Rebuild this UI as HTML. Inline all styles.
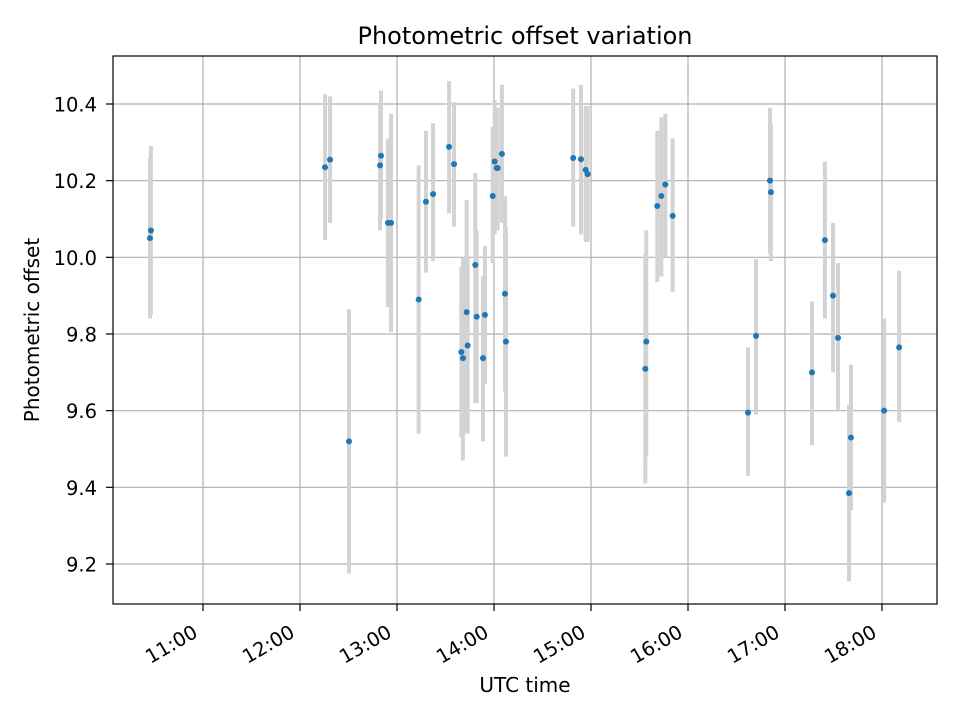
<!DOCTYPE html>
<html><head><meta charset="utf-8"><style>
html,body{margin:0;padding:0;background:#fff;}
svg{display:block;font-family:"DejaVu Sans","Liberation Sans",sans-serif;}
</style></head><body>
<svg id="chart" width="960" height="720" viewBox="0 0 960 720" xmlns="http://www.w3.org/2000/svg">
<rect x="0" y="0" width="960" height="720" fill="#fff"/>
<g id="grid"></g>
<g id="bars"></g>
<g id="pts"></g>
<rect x="113" y="56" width="824" height="548" fill="none" stroke="#000" stroke-width="1.2"/>
<g id="axes"></g>
<text x="525" y="44" text-anchor="middle" font-size="24">Photometric offset variation</text>
<text x="525" y="692" text-anchor="middle" font-size="20">UTC time</text>
<text transform="translate(39,330) rotate(-90)" text-anchor="middle" font-size="20">Photometric offset</text>
</svg>
<script>
// minutes since 11:00 UTC
const times = [-32.8,-32.2,75.5,78.6,90.3,109.5,110.1,114.4,116.3,133.4,137.9,142.3,152.2,155.3,159.8,160.8,163.1,163.7,168.4,169.3,173.2,174.4,179.2,180.4,181.7,182.3,184.9,186.8,187.4,229,233.8,236.7,237.9,273.6,274.2,281,283.5,286,290.5,337.1,342.1,350.7,351.3,376.7,384.7,389.7,392.8,399.6,400.8,421.3,430.6];
const values = [10.05,10.07,10.235,10.255,9.52,10.24,10.265,10.09,10.09,9.89,10.145,10.165,10.288,10.243,9.753,9.737,9.857,9.77,9.98,9.845,9.737,9.85,10.16,10.25,10.233,10.233,10.27,9.905,9.78,10.259,10.256,10.228,10.217,9.709,9.78,10.134,10.16,10.19,10.108,9.595,9.795,10.2,10.17,9.70,10.045,9.90,9.79,9.385,9.53,9.60,9.765];
const lower = [9.84,9.85,10.045,10.09,9.175,10.07,10.10,9.87,9.805,9.54,9.96,9.99,10.115,10.08,9.53,9.47,9.54,9.54,9.62,9.62,9.52,9.67,9.985,10.06,10.07,10.07,10.09,9.65,9.48,10.08,10.06,10.04,10.04,9.41,9.48,9.935,9.95,10.0,9.91,9.43,9.59,10.01,9.99,9.51,9.84,9.70,9.60,9.155,9.34,9.36,9.57];
const upper = [10.26,10.29,10.425,10.42,9.865,10.40,10.435,10.31,10.375,10.24,10.33,10.35,10.46,10.405,9.975,10.0,10.15,10.0,10.22,10.07,9.95,10.03,10.34,10.41,10.39,10.39,10.45,10.16,10.08,10.44,10.45,10.395,10.395,10.01,10.07,10.33,10.365,10.375,10.31,9.765,9.995,10.39,10.35,9.885,10.25,10.09,9.985,9.615,9.72,9.84,9.965];
const yTicks = [9.2,9.4,9.6,9.8,10.0,10.2,10.4];
const yTickLabels = ["9.2","9.4","9.6","9.8","10.0","10.2","10.4"];
const xTicks = [0,60,120,180,240,300,360,420];
const xTickLabels = ["11:00","12:00","13:00","14:00","15:00","16:00","17:00","18:00"];

const NS="http://www.w3.org/2000/svg";
const X0=113,X1=937,Y0=56,Y1=604;
function xs(m){return 203+m*97/60;}
function ys(v){return 104+(10.4-v)*383.33;}
function mk(tag,attrs,parent){const e=document.createElementNS(NS,tag);for(const k in attrs)e.setAttribute(k,attrs[k]);parent.appendChild(e);return e;}
const grid=document.getElementById('grid'),axes=document.getElementById('axes'),bars=document.getElementById('bars'),pts=document.getElementById('pts');
yTicks.forEach((v,i)=>{const y=ys(v);
 const g=mk('line',{x1:X0,x2:X1,y1:y,y2:y,stroke:'#b0b0b0','stroke-width':1.2},grid);
 
 
 const t=mk('line',{x1:X0-7,x2:X0,y1:y,y2:y,stroke:'#000','stroke-width':1.2},axes);
 
 
 const l=mk('text',{x:X0-16,y:y+7.5,'text-anchor':'end','font-size':19.5},axes);
 l.textContent=yTickLabels[i];
 
 
});
xTicks.forEach((m,i)=>{const x=xs(m);
 const g=mk('line',{x1:x,x2:x,y1:Y0,y2:Y1,stroke:'#b0b0b0','stroke-width':1.2},grid);
 
 
 const t=mk('line',{x1:x,x2:x,y1:Y1,y2:Y1+7,stroke:'#000','stroke-width':1.2},axes);
 
 
 const l=mk('text',{transform:`translate(${x-4},${Y1+32}) rotate(-30)`,'text-anchor':'end','font-size':19.5},axes);
 l.textContent=xTickLabels[i];
 
 
});
times.forEach((m,i)=>{const x=xs(m);
 const b=mk('line',{x1:x,x2:x,y1:ys(upper[i]),y2:ys(lower[i]),stroke:'#d3d3d3','stroke-width':4},bars);
 
 
});
times.forEach((m,i)=>{
 const c=mk('circle',{cx:xs(m),cy:ys(values[i]),r:3,fill:'#1f77b4'},pts);
 
 
});
</script>
</body></html>
